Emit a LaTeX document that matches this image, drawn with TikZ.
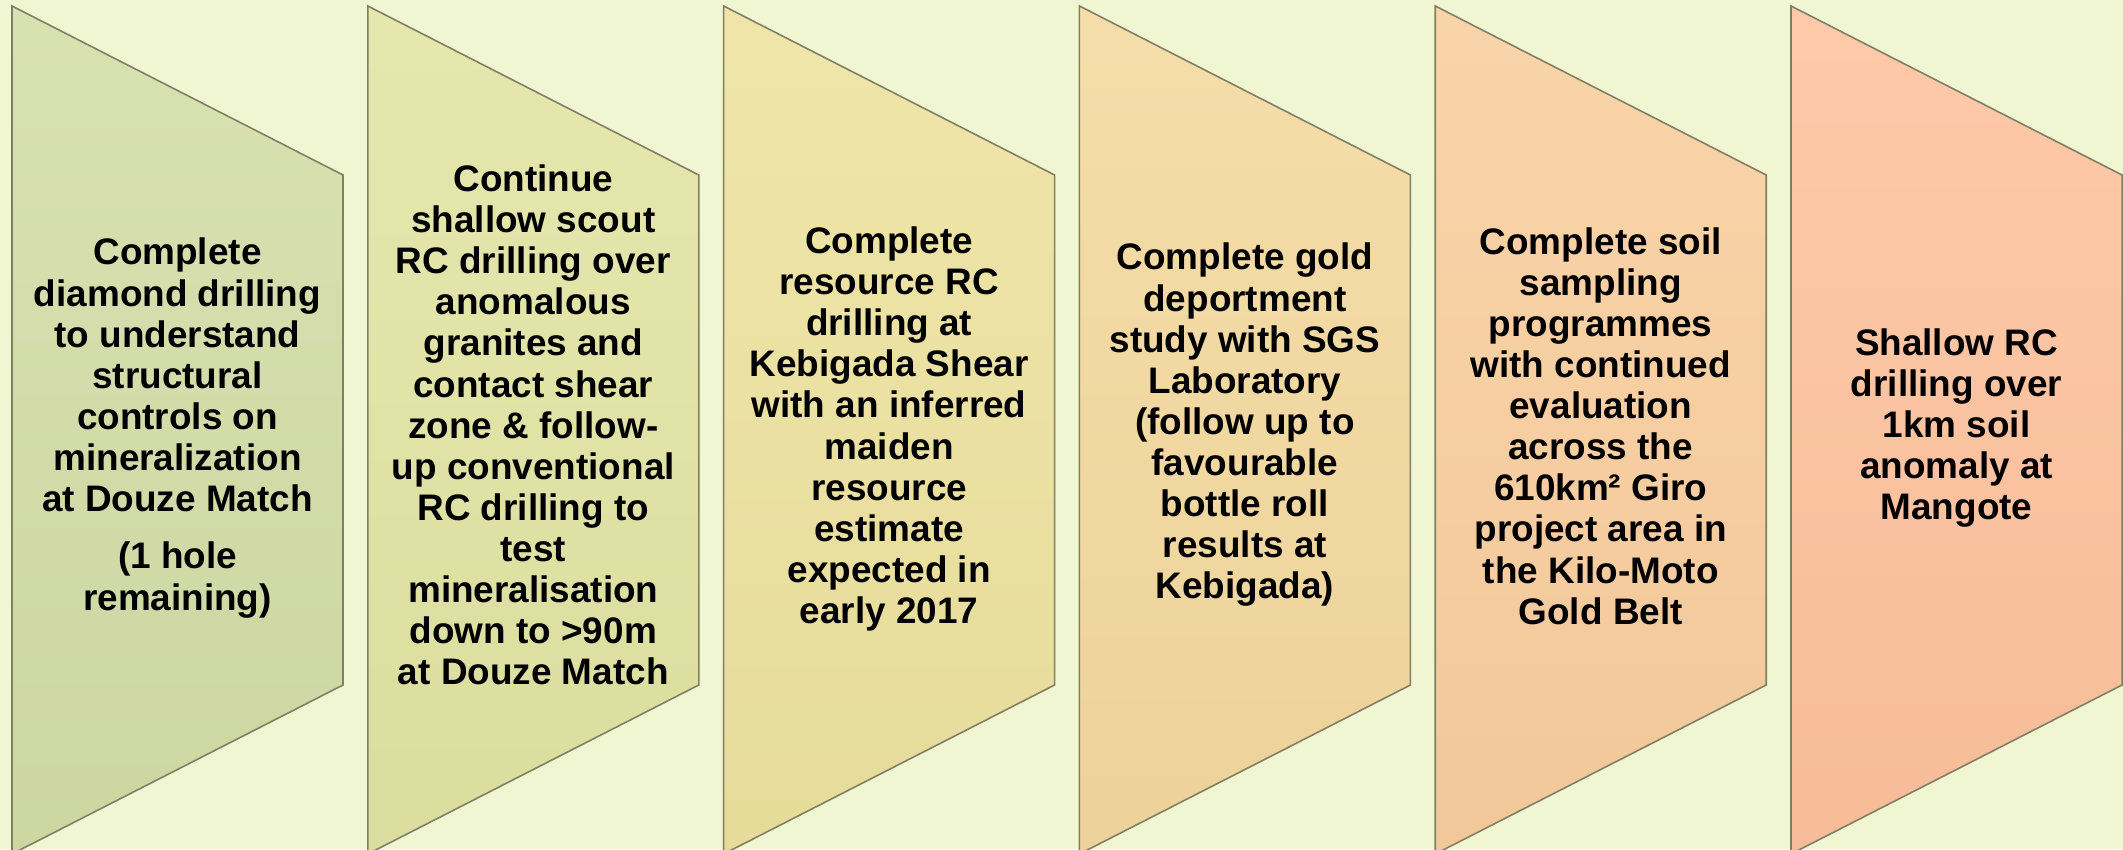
\documentclass[tikz,border=0pt]{standalone}
\usepackage{fontspec}
\setmainfont{Liberation Sans}

\definecolor{bgcol}{RGB}{240,245,210}
\definecolor{edgecol}{RGB}{128,126,100}
\definecolor{stageA}{RGB}{211,221,166}
\definecolor{stageB}{RGB}{226,228,163}
\definecolor{stageC}{RGB}{237,226,158}
\definecolor{stageD}{RGB}{244,217,158}
\definecolor{stageE}{RGB}{249,206,158}
\definecolor{stageF}{RGB}{254,194,157}

\begin{document}
\begin{tikzpicture}
          [stage/.style={draw=edgecol, line width=0.45pt, top color=#1!88!white, bottom color=#1!97!black},
           stagetext/.style={align=center, inner sep=0pt, font=\bfseries\fontsize{10.5pt}{11.7pt}\selectfont}]
        \fill[bgcol] (0,0) rectangle (21.23,8.49);
        \useasboundingbox (0,0) rectangle (21.23,8.49);

        \foreach \i/\c in {0/stageA, 1/stageB, 2/stageC, 3/stageD, 4/stageE, 5/stageF}
          \draw[stage=\c] ({0.12+3.558*\i},8.43) -- ++(3.31,-1.69) -- ++(0,-5.10) -- ++(-3.31,-1.69) -- cycle;

        \node[stagetext] (diamond) at (1.775,4.21) {Complete\\diamond drilling\\to understand\\structural\\controls on\\mineralization\\at Douze Match\\[4.6pt](1 hole\\remaining)};
        \node[stagetext] (scout) at (5.333,4.24) {Continue\\shallow scout\\RC drilling over\\anomalous\\granites and\\contact shear\\zone \& follow-\\up conventional\\RC drilling to\\test\\mineralisation\\down to >90m\\at Douze Match};
        \node[stagetext] (resource) at (8.891,4.20) {Complete\\resource RC\\drilling at\\Kebigada Shear\\with an inferred\\maiden\\resource\\estimate\\expected in\\early 2017};
        \node[stagetext] (deport) at (12.449,4.24) {Complete gold\\deportment\\study with SGS\\Laboratory\\(follow up to\\favourable\\bottle roll\\results at\\Kebigada)};
        \node[stagetext] (soil) at (16.007,4.23) {Complete soil\\sampling\\programmes\\with continued\\evaluation\\across the\\610km² Giro\\project area in\\the Kilo-Moto\\Gold Belt};
        \node[stagetext] (mangote) at (19.565,4.21) {Shallow RC\\drilling over\\1km soil\\anomaly at\\Mangote};
      \end{tikzpicture}
\end{document}
